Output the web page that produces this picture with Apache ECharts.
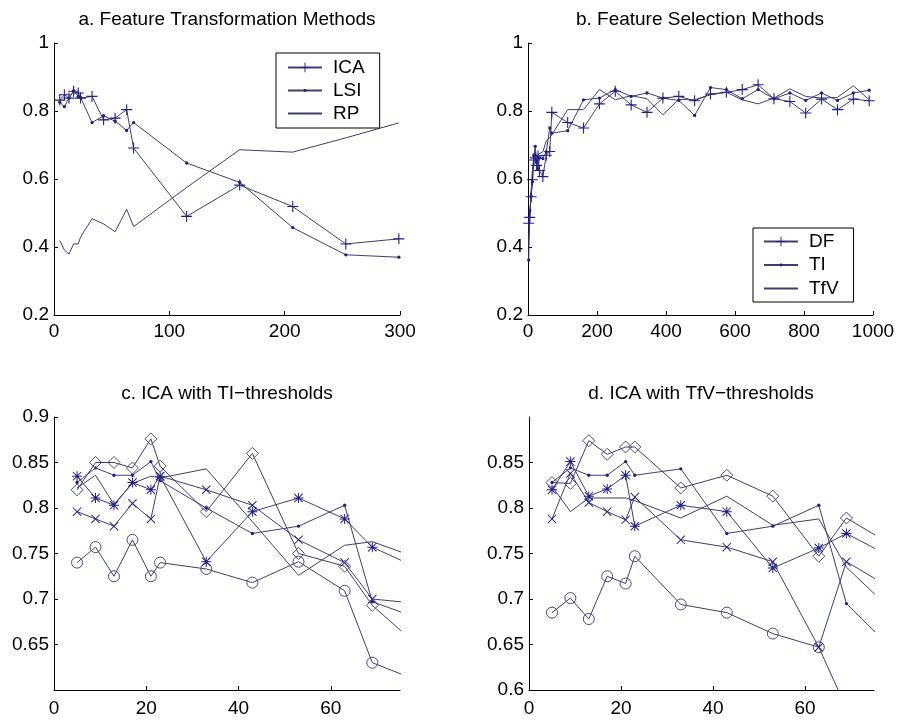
<!DOCTYPE html>
<html>
<head>
<meta charset="utf-8">
<title>ICA feature methods</title>
<script src="https://cdn.jsdelivr.net/npm/echarts@6/dist/echarts.min.js"></script>
<style>
  html, body { margin: 0; padding: 0; background: #fff; }
  #chart { width: 897px; height: 720px; }
</style>
</head>
<body>
<div id="chart"></div>
<script>
// a. feature transformation
var aX   = [5, 9, 13, 17, 21, 23, 33, 43, 53, 63, 69, 115, 161, 207, 253, 299];
var aICA = [0.832, 0.848, 0.838, 0.858, 0.853, 0.838, 0.843, 0.774, 0.779, 0.804, 0.691, 0.490, 0.582, 0.519, 0.409, 0.424];
var aLSI = [0.826, 0.813, 0.838, 0.860, 0.843, 0.840, 0.766, 0.786, 0.770, 0.743, 0.766, 0.647, 0.590, 0.457, 0.377, 0.370];
var aRP  = [0.419, 0.391, 0.379, 0.409, 0.409, 0.429, 0.483, 0.468, 0.445, 0.511, 0.460, 0.575, 0.686, 0.679, 0.721, 0.765];

// b. feature selection
var bX   = [2, 5, 9, 13, 17, 21, 25, 29, 33, 43, 53, 63, 69,
            115, 161, 207, 253, 299, 345, 391, 437, 483, 529, 575, 621, 667, 713, 759, 805, 851, 897, 943, 989];
var bDF  = [0.470, 0.487, 0.548, 0.598, 0.656, 0.662, 0.640, 0.668, 0.625, 0.607, 0.670, 0.681, 0.796,
            0.766, 0.750, 0.821, 0.858, 0.818, 0.796, 0.838, 0.843, 0.830, 0.850, 0.855, 0.863, 0.877, 0.836, 0.828, 0.794, 0.835, 0.804, 0.835, 0.830];
var bTI  = [0.362, 0.507, 0.550, 0.592, 0.670, 0.696, 0.650, 0.630, 0.662, 0.660, 0.680, 0.750, 0.735,
            0.742, 0.833, 0.838, 0.863, 0.843, 0.853, 0.838, 0.831, 0.787, 0.869, 0.863, 0.836, 0.863, 0.836, 0.853, 0.831, 0.853, 0.831, 0.853, 0.861];
var bTfV = [0.410, 0.480, 0.565, 0.630, 0.662, 0.680, 0.660, 0.672, 0.668, 0.680, 0.712, 0.722, 0.730,
            0.804, 0.804, 0.863, 0.833, 0.845, 0.836, 0.789, 0.834, 0.833, 0.848, 0.855, 0.833, 0.821, 0.838, 0.865, 0.843, 0.838, 0.840, 0.874, 0.833];

// c. ICA with TI thresholds
var cX       = [5, 9, 13, 17, 21, 23, 33, 43, 53, 63, 69, 115];
var cCircle  = [0.740, 0.757, 0.725, 0.765, 0.725, 0.740, 0.733, 0.718, 0.741, 0.709, 0.630, 0.538];
var cCross   = [0.796, 0.788, 0.780, 0.805, 0.788, 0.835, 0.820, 0.803, 0.765, 0.740, 0.700, 0.677];
var cPlain   = [0.822, 0.836, 0.804, 0.827, 0.835, 0.833, 0.843, 0.785, 0.726, 0.759, 0.763, 0.679];
var cStar    = [0.835, 0.811, 0.803, 0.828, 0.820, 0.835, 0.741, 0.796, 0.811, 0.788, 0.757, 0.650];
var cDot     = [0.828, 0.844, 0.836, 0.836, 0.851, 0.830, 0.800, 0.772, 0.780, 0.803, 0.697, 0.613];
var cDiamond = [0.820, 0.850, 0.850, 0.844, 0.876, 0.846, 0.796, 0.860, 0.750, 0.736, 0.693, 0.486];

// d. ICA with TfV thresholds
var dX       = [5, 9, 13, 17, 21, 23, 33, 43, 53, 63, 69, 115];
var dCircle  = [0.685, 0.701, 0.678, 0.725, 0.717, 0.747, 0.694, 0.685, 0.662, 0.647, 0.580, 0.420];
var dCross   = [0.788, 0.838, 0.806, 0.796, 0.787, 0.812, 0.765, 0.757, 0.741, 0.647, 0.741, 0.603];
var dPlain   = [0.824, 0.796, 0.811, 0.811, 0.811, 0.808, 0.789, 0.813, 0.781, 0.788, 0.735, 0.513];
var dStar    = [0.820, 0.851, 0.813, 0.821, 0.836, 0.780, 0.803, 0.796, 0.734, 0.756, 0.772, 0.649];
var dDot     = [0.828, 0.844, 0.836, 0.836, 0.851, 0.836, 0.843, 0.772, 0.780, 0.803, 0.695, 0.465];
var dDiamond = [0.828, 0.827, 0.874, 0.859, 0.867, 0.867, 0.822, 0.836, 0.813, 0.747, 0.789, 0.651];

var yTicksC = [0.65, 0.7, 0.75, 0.8, 0.85, 0.9];
var yTicksD = [0.6, 0.65, 0.7, 0.75, 0.8, 0.85];
var xTicksCD = [0, 20, 40, 60];

var FONT = '"Liberation Sans", Arial, Helvetica, sans-serif';
var FS = 19;
var LINE = '#3e3e72';
var MARK = '#20208a';

// marker shapes (matlab-ish). the dot and the empty one carry invisible bounds
var SYM = {
    plus:  'path://M4.5,0h1v10h-1zM0,4.5h10v1h-10z',
    star:  'path://M4.5,0h1v10h-1zM0,4.5h10v1h-10zM1.2,0.5L9.5,8.8L8.8,9.5L0.5,1.2zM8.8,0.5L9.5,1.2L1.2,9.5L0.5,8.8z',
    cross: 'path://M1.2,0.5L9.5,8.8L8.8,9.5L0.5,1.2zM8.8,0.5L9.5,1.2L1.2,9.5L0.5,8.8z',
    dot:   'path://M0,0M10,10M3.5,5a1.5,1.5 0 1 0 3,0a1.5,1.5 0 1 0 -3,0z',
    none:  'path://M0,0M10,10'
};

function pairs(xs, ys) {
    var out = [];
    for (var i = 0; i < xs.length; i++) out.push([xs[i], ys[i]]);
    return out;
}

function mk(name, gi, xs, ys, kind) {
    var s = {
        type: 'line', name: name,
        xAxisIndex: gi, yAxisIndex: gi,
        data: pairs(xs, ys),
        clip: true, silent: true,
        lineStyle: { color: LINE, width: 1 },
        emphasis: { disabled: true }
    };
    if (kind === 'circle' || kind === 'diamond') {
        s.symbol = kind;
        s.symbolSize = kind === 'circle' ? 11 : 12;
        s.itemStyle = { color: 'rgba(0,0,0,0)', borderColor: '#4a4a7c', borderWidth: 1 };
    } else {
        s.symbol = SYM[kind];
        s.symbolSize = kind === 'cross' ? 9 : (kind === 'none' ? 1 : (kind === 'star' ? 10 : 11));
        s.itemStyle = { color: MARK };
        if (kind === 'none') s.showSymbol = false;
    }
    return s;
}

function xAx(gi, min, max, interval, custom, margin) {
    var ax = {
        type: 'value', gridIndex: gi, min: min, max: max,
        axisLine: { onZero: false, lineStyle: { color: '#000', width: 1 } },
        axisTick: { inside: true, length: 4, lineStyle: { color: '#000' } },
        axisLabel: {
            color: '#000', fontSize: FS, fontFamily: FONT, margin: margin,
            formatter: function (v) { return String(+(+v).toFixed(3)); }
        },
        splitLine: { show: false }
    };
    if (custom) {
        ax.axisTick.customValues = custom;
        ax.axisLabel.customValues = custom;
    } else {
        ax.interval = interval;
    }
    return ax;
}

function yAx(gi, min, max, interval, custom) {
    return xAx(gi, min, max, interval, custom, 5);
}

function ttl(text, cx, top) {
    return {
        text: text, left: cx, top: top, textAlign: 'center', padding: 0,
        textStyle: { color: '#000', fontSize: FS, fontWeight: 'normal', fontFamily: FONT }
    };
}

function lgd(names, left, top, pad, gap) {
    return {
        orient: 'vertical', align: 'left', left: left, top: top,
        data: names, padding: pad, itemGap: gap,
        itemWidth: 34, itemHeight: 12,
        backgroundColor: '#fff', borderColor: '#000', borderWidth: 1, borderRadius: 0,
        selectedMode: false,
        textStyle: { color: '#000', fontSize: FS, fontFamily: FONT, padding: [0, 0, 0, 6] }
    };
}

var chart = echarts.init(document.getElementById('chart'), null, { renderer: 'canvas' });

var option = {
    animation: false,
    backgroundColor: '#fff',
    title: [
        ttl('a. Feature Transformation Methods', 227, 10),
        ttl('b. Feature Selection Methods', 700, 10),
        ttl('c. ICA with TI\u2212thresholds', 227, 384),
        ttl('d. ICA with TfV\u2212thresholds', 701, 384)
    ],
    legend: [
        lgd(['ICA', 'LSI', 'RP'], 276, 53, [5, 15, 5, 11], 4),
        lgd(['DF', 'TI', 'TfV'], 753, 228, [4, 15, 4, 10], 4.5)
    ],
    grid: [
        { left: 54, top: 43, width: 346, height: 272, outerBoundsMode: 'none' },
        { left: 528, top: 43, width: 345, height: 272, outerBoundsMode: 'none' },
        { left: 54, top: 417, width: 346, height: 273, outerBoundsMode: 'none' },
        { left: 529, top: 417, width: 345, height: 273, outerBoundsMode: 'none' }
    ],
    xAxis: [
        xAx(0, 0, 300, 100, null, 7),
        xAx(1, 0, 1000, 200, null, 7),
        xAx(2, 0, 75, null, xTicksCD, 9),
        xAx(3, 0, 75, null, xTicksCD, 9)
    ],
    yAxis: [
        yAx(0, 0.2, 1, 0.2),
        yAx(1, 0.2, 1, 0.2),
        yAx(2, 0.6, 0.9, null, yTicksC),
        yAx(3, 0.6, 0.9, null, yTicksD)
    ],
    series: [
        mk('ICA', 0, aX, aICA, 'plus'),
        mk('LSI', 0, aX, aLSI, 'dot'),
        mk('RP', 0, aX, aRP, 'none'),

        mk('DF', 1, bX, bDF, 'plus'),
        mk('TI', 1, bX, bTI, 'dot'),
        mk('TfV', 1, bX, bTfV, 'none'),

        mk('c-o', 2, cX, cCircle, 'circle'),
        mk('c-x', 2, cX, cCross, 'cross'),
        mk('c-line', 2, cX, cPlain, 'none'),
        mk('c-*', 2, cX, cStar, 'star'),
        mk('c-.', 2, cX, cDot, 'dot'),
        mk('c-d', 2, cX, cDiamond, 'diamond'),

        mk('d-o', 3, dX, dCircle, 'circle'),
        mk('d-x', 3, dX, dCross, 'cross'),
        mk('d-line', 3, dX, dPlain, 'none'),
        mk('d-*', 3, dX, dStar, 'star'),
        mk('d-.', 3, dX, dDot, 'dot'),
        mk('d-d', 3, dX, dDiamond, 'diamond')
    ]
};

chart.setOption(option);
</script>
</body>
</html>
